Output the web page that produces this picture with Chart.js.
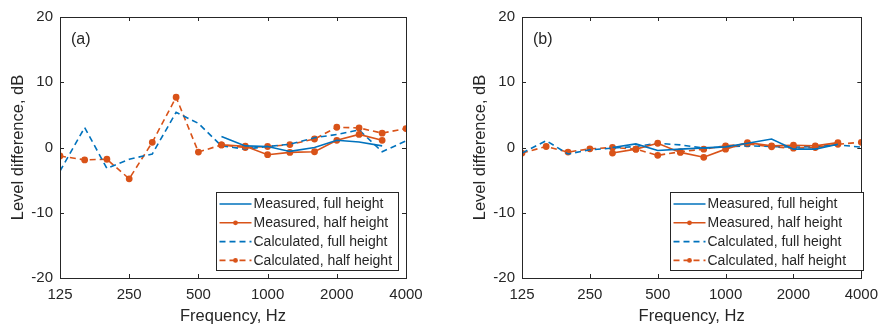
<!DOCTYPE html>
<html>
<head>
<meta charset="utf-8">
<script src="https://cdn.jsdelivr.net/npm/chart.js@4/dist/chart.umd.min.js"></script>
<style>
  body { margin: 0; background: #fff; }
  #wrap { position: relative; width: 886px; height: 327px; }
  #wrap canvas { position: absolute; top: 0; }
</style>
</head>
<body>
<div id="wrap">
  <canvas id="chartA" width="443" height="327" style="left:0"></canvas>
  <canvas id="chartB" width="424" height="327" style="left:462px"></canvas>
</div>
<script>
// third-octave band centre frequencies, Hz
const freqs = [125, 160, 200, 250, 315, 400, 500, 630, 800, 1000, 1250, 1600, 2000, 2500, 3150, 4000];
const xTicks = [125, 250, 500, 1000, 2000, 4000];
const yTicks = [-20, -10, 0, 10, 20];

// (a)
const measFullA = [null, null, null, null, null, null, null, 1.7, 0.25, 0.15, -0.6, 0.0, 1.1, 0.85, 0.25, null];
const measHalfA = [null, null, null, null, null, null, null, 0.4, 0.2, -1.1, -0.75, -0.65, 1.1, 2.0, 1.1, null];
const calcFullA = [-3.6, 3.05, -3.2, -1.8, -1.0, 5.4, 3.7, 0.25, -0.25, 0.15, 0.5, 1.5, 2.0, 2.7, -0.65, 1.0];
const calcHalfA = [-1.3, -1.9, -1.8, -4.8, 0.8, 7.7, -0.7, 0.4, 0.0, 0.15, 0.45, 1.3, 3.1, 3.0, 2.2, 2.9];

// (b)
const measFullB = [null, null, null, null, 0.0, 0.55, -0.45, -0.25, -0.05, 0.1, 0.65, 1.3, -0.25, -0.25, 0.5, null];
const measHalfB = [null, null, null, null, -0.85, -0.25, 0.65, -0.75, -1.5, -0.25, 0.75, 0.25, 0.35, 0.25, 0.75, null];
const calcFullB = [-0.85, 1.05, -1.0, -0.35, -0.1, 0.15, 0.65, 0.4, -0.1, 0.1, 0.25, 0.15, 0.05, 0.15, 0.4, 0.05];
const calcHalfB = [-0.85, 0.15, -0.7, -0.2, 0.0, -0.25, -1.2, -0.65, -0.25, 0.25, 0.55, 0.1, -0.1, 0.0, 0.5, 0.8];

const seriesNames = ['Measured, full height', 'Measured, half height', 'Calculated, full height', 'Calculated, half height'];

const BLUE = '#0072BD';
const ORANGE = '#D95319';
const INK = '#262626';
const FONT = '"Liberation Sans", Arial, sans-serif';

function pts(vals) {
    return freqs.map((f, i) => ({ x: f, y: vals[i] }));
}

function makeDatasets(mf, mh, cf, ch) {
    const base = { borderWidth: 1.6, pointRadius: 0, fill: false, tension: 0, spanGaps: false };
    return [
        { ...base, label: seriesNames[0], data: pts(mf), borderColor: BLUE },
        { ...base, label: seriesNames[1], data: pts(mh), borderColor: ORANGE, pointRadius: 2.6,
          pointBackgroundColor: ORANGE, pointBorderColor: ORANGE },
        { ...base, label: seriesNames[2], data: pts(cf), borderColor: BLUE, borderDash: [6, 4] },
        { ...base, label: seriesNames[3], data: pts(ch), borderColor: ORANGE, borderDash: [6, 4], pointRadius: 2.6,
          pointBackgroundColor: ORANGE, pointBorderColor: ORANGE }
    ];
}

// box, inward ticks, panel letter and the legend inside the axes
const framePlugin = {
    id: 'frame',
    afterDraw(chart, args, opts) {
        const { ctx, chartArea: a, scales: { x, y } } = chart;
        ctx.save();
        ctx.strokeStyle = INK;
        ctx.lineWidth = 1;
        ctx.setLineDash([]);
        ctx.strokeRect(Math.round(a.left) + 0.5, Math.round(a.top) + 0.5, Math.round(a.width), Math.round(a.height));
        ctx.beginPath();
        xTicks.forEach(v => {
            const px = Math.round(x.getPixelForValue(v)) + 0.5;
            ctx.moveTo(px, a.bottom); ctx.lineTo(px, a.bottom - 4);
            ctx.moveTo(px, a.top); ctx.lineTo(px, a.top + 4);
        });
        yTicks.forEach(v => {
            const py = Math.round(y.getPixelForValue(v)) + 0.5;
            ctx.moveTo(a.left, py); ctx.lineTo(a.left + 4, py);
            ctx.moveTo(a.right, py); ctx.lineTo(a.right - 4, py);
        });
        ctx.stroke();

        // panel letter
        ctx.fillStyle = INK;
        ctx.font = '16px ' + FONT;
        ctx.textBaseline = 'middle';
        ctx.textAlign = 'left';
        ctx.fillText(opts.letter, a.left + 11, a.top + 23);

        // legend
        const bw = opts.boxWidth, bh = 78;
        const bx = Math.round(a.right - opts.rightGap - bw) + 0.5;
        const by = Math.round(a.bottom - 8 - bh) + 0.5;
        ctx.fillStyle = '#fff';
        ctx.fillRect(bx, by, bw, bh);
        ctx.strokeStyle = INK;
        ctx.lineWidth = 1;
        ctx.strokeRect(bx, by, bw, bh);
        ctx.font = '14px ' + FONT;
        chart.data.datasets.forEach((ds, i) => {
            const ry = by + 11.5 + i * 18.8;
            ctx.strokeStyle = ds.borderColor;
            ctx.lineWidth = 1.6;
            ctx.setLineDash(ds.borderDash || []);
            ctx.beginPath();
            ctx.moveTo(bx + 3, ry);
            ctx.lineTo(bx + 35, ry);
            ctx.stroke();
            if (ds.pointRadius > 0) {
                ctx.fillStyle = ds.borderColor;
                ctx.beginPath();
                ctx.arc(bx + 19, ry, 2.4, 0, Math.PI * 2);
                ctx.fill();
            }
            ctx.setLineDash([]);
            ctx.fillStyle = INK;
            ctx.fillText(ds.label, bx + 37, ry + 0.5);
        });
        ctx.restore();
    }
};

function makeChart(id, datasets, letter, boxWidth, rightGap, rightPad) {
    return new Chart(document.getElementById(id), {
        type: 'line',
        data: { datasets: datasets },
        options: {
            responsive: false,
            animation: false,
            events: [],
            layout: { padding: { left: 0, right: rightPad, top: 17, bottom: 0 } },
            plugins: {
                legend: { display: false },
                tooltip: { enabled: false },
                frame: { letter: letter, boxWidth: boxWidth, rightGap: rightGap }
            },
            scales: {
                x: {
                    type: 'logarithmic',
                    min: 125,
                    max: 4000,
                    afterBuildTicks: s => { s.ticks = xTicks.map(v => ({ value: v })); },
                    afterFit: s => { s.height = 49; },
                    grid: { display: false, drawTicks: false, tickLength: 0 },
                    border: { display: false },
                    ticks: {
                        color: INK, padding: 8, maxRotation: 0, autoSkip: false,
                        font: { family: FONT, size: 15 },
                        callback: v => String(v)
                    },
                    title: {
                        display: true, text: 'Frequency, Hz', color: INK,
                        font: { family: FONT, size: 16.5 },
                        padding: { top: 0, bottom: 0.5 }
                    }
                },
                y: {
                    min: -20,
                    max: 20,
                    afterBuildTicks: s => { s.ticks = yTicks.map(v => ({ value: v })); },
                    afterFit: s => { s.width = 60; },
                    grid: { display: false, drawTicks: false, tickLength: 0 },
                    border: { display: false },
                    ticks: {
                        color: INK, padding: 7,
                        font: { family: FONT, size: 15 },
                        callback: v => String(v)
                    },
                    title: {
                        display: true, text: 'Level difference, dB', color: INK,
                        font: { family: FONT, size: 16.5 },
                        padding: { top: 9, bottom: 0 }
                    }
                }
            }
        },
        plugins: [framePlugin]
    });
}

makeChart('chartA', makeDatasets(measFullA, measHalfA, calcFullA, calcHalfA), '(a)', 182, 8, 37);
makeChart('chartB', makeDatasets(measFullB, measHalfB, calcFullB, calcHalfB), '(b)', 193, -2, 18);
</script>
</body>
</html>
